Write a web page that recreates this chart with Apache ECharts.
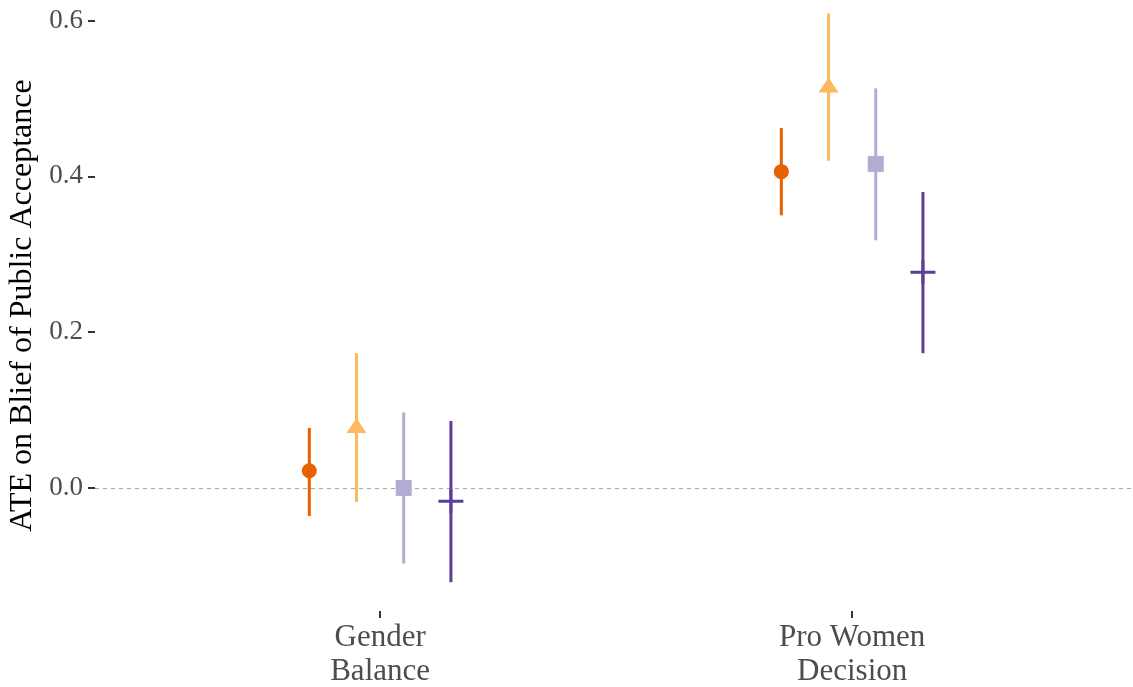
<!DOCTYPE html>
<html>
<head>
<meta charset="utf-8">
<script src="https://cdn.jsdelivr.net/npm/echarts@6/dist/echarts.min.js"></script>
<style>
html,body{margin:0;padding:0;background:#fff;}
#chart{width:1133px;height:687px;}
</style>
</head>
<body>
<div id="chart"></div>
<script>
// ---- data ----
var categories = ["Gender\nBalance", "Pro Women\nDecision"];
var yTicks = [0, 0.2, 0.4, 0.6];
var groupNames = ["Group 1", "Group 2", "Group 3", "Group 4"];
var dodge = [-0.15, -0.05, 0.05, 0.15];

var est1 = [0.022, 0.406];
var lo1  = [-0.036, 0.350];
var hi1  = [0.077, 0.462];

var est2 = [0.077, 0.514];
var lo2  = [-0.018, 0.420];
var hi2  = [0.173, 0.609];

var est3 = [0.000, 0.416];
var lo3  = [-0.097, 0.318];
var hi3  = [0.097, 0.513];

var est4 = [-0.017, 0.277];
var lo4  = [-0.121, 0.173];
var hi4  = [0.086, 0.380];

// ---- styling ----
var colors = ["#E66101", "#FDB863", "#B2ABD2", "#5E3C99"];
var crossPath = 'path://M0,10.5 L25,10.5 L25,13.5 L0,13.5 Z M11,0 L14,0 L14,24 L11,24 Z';
var symbols = ['circle', 'triangle', 'rect', crossPath];
var symbolSizes = [15, [20, 15], 16, [25, 24]];
var symbolOffsets = [[0, 0], [0, -2.5], [0, 0], [0, 0]];

var ests = [est1, est2, est3, est4];
var los = [lo1, lo2, lo3, lo4];
var his = [hi1, hi2, hi3, hi4];

var series = [];
groupNames.forEach(function (name, g) {
  var barData = [], ptData = [];
  categories.forEach(function (c, i) {
    var x = (i + 1) + dodge[g];
    barData.push([x, los[g][i], his[g][i]]);
    ptData.push([x, ests[g][i]]);
  });
  var bar = {
    type: 'custom',
    name: name,
    z: 2,
    data: barData,
    encode: { x: 0, y: [1, 2] },
    renderItem: function (params, api) {
      var x = api.value(0);
      var p1 = api.coord([x, api.value(1)]);
      var p2 = api.coord([x, api.value(2)]);
      return {
        type: 'line',
        shape: { x1: p1[0], y1: p1[1], x2: p2[0], y2: p2[1] },
        style: { stroke: colors[g], lineWidth: 3, lineCap: 'butt' }
      };
    },
    silent: true
  };
  if (g === 0) {
    bar.markLine = {
      silent: true,
      symbol: 'none',
      label: { show: false },
      lineStyle: { type: [4, 4], color: '#a6a6a6', width: 1 },
      data: [{ yAxis: 0 }],
      z: 1
    };
  }
  series.push(bar);
  series.push({
    type: 'scatter',
    name: name,
    z: 3,
    data: ptData,
    symbol: symbols[g],
    symbolSize: symbolSizes[g],
    symbolOffset: symbolOffsets[g],
    itemStyle: { color: colors[g], opacity: 1 },
    silent: true
  });
});

var chart = echarts.init(document.getElementById('chart'), null, { renderer: 'canvas' });
chart.setOption({
  animation: false,
  backgroundColor: '#fff',
  grid: { left: 95, right: 0, top: 0, bottom: 76, containLabel: false, outerBoundsMode: 'none' },
  xAxis: {
    type: 'value',
    min: 0.396,
    max: 2.595,
    splitLine: { show: false },
    axisLine: { show: false, onZero: false },
    axisTick: { show: true, length: 7, lineStyle: { color: '#333', width: 2 }, customValues: [1, 2] },
    axisLabel: {
      show: true,
      customValues: [1, 2],
      formatter: function (v) { return categories[Math.round(v) - 1] || ''; },
      fontFamily: 'Liberation Serif',
      fontSize: 31,
      lineHeight: 34,
      color: '#4D4D4D',
      margin: 10
    }
  },
  yAxis: {
    type: 'value',
    min: -0.158,
    max: 0.6264,
    name: 'ATE on Blief of Public Acceptance',
    nameLocation: 'middle',
    nameGap: 55,
    nameTextStyle: { fontFamily: 'Liberation Serif', fontSize: 32, color: '#000' },
    splitLine: { show: false },
    axisLine: { show: false },
    axisTick: { show: true, length: 7, lineStyle: { color: '#333', width: 2 }, customValues: yTicks },
    axisLabel: {
      show: true,
      customValues: yTicks,
      formatter: function (v) { return v.toFixed(1); },
      fontFamily: 'Liberation Serif',
      fontSize: 27,
      color: '#4D4D4D',
      margin: 12
    }
  },
  series: series
});
</script>
</body>
</html>
